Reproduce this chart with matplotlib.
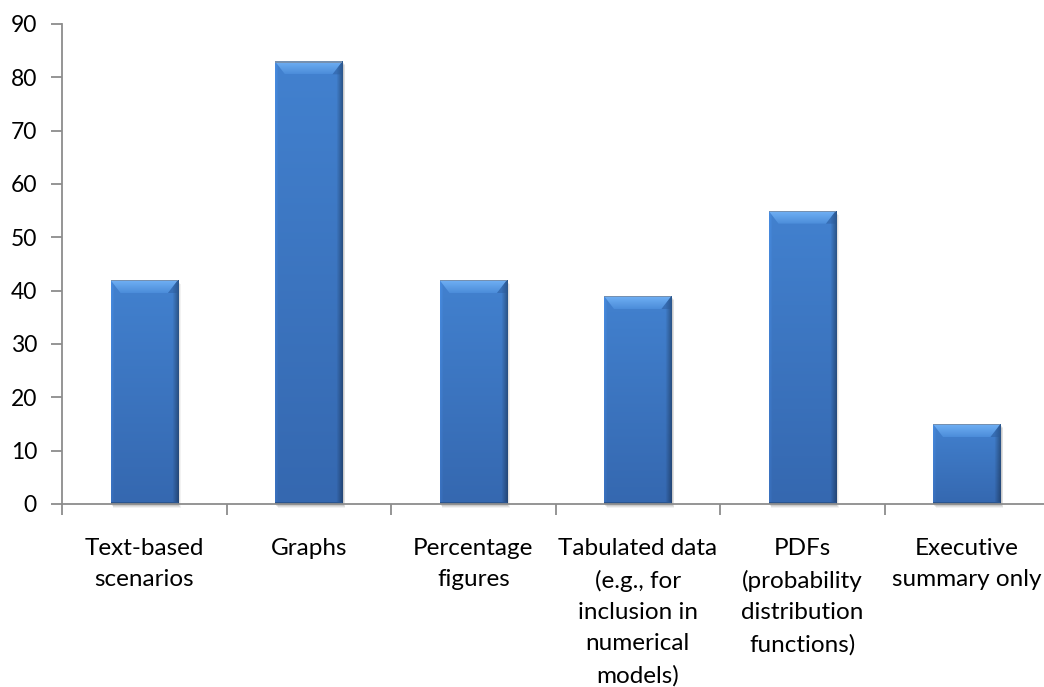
import numpy as np
import matplotlib
matplotlib.use('Agg')
import matplotlib.pyplot as plt
from matplotlib.patches import Rectangle, Polygon

categories = [
    "Text-based\nscenarios",
    "Graphs",
    "Percentage\nfigures",
    "Tabulated data\n(e.g., for\ninclusion in\nnumerical\nmodels)",
    "PDFs\n(probability\ndistribution\nfunctions)",
    "Executive\nsummary only",
]
values = [42, 83, 42, 39, 55, 15]
y_ticks = list(range(0, 100, 10))

plt.rcParams['font.family'] = ['Lato', 'DejaVu Sans']

fig = plt.figure(figsize=(10.44, 6.87), dpi=100)
W, H = 1044, 687
left, right = 62, 1049
top, bottom = 24, 504
ax = fig.add_axes([left / W, 1 - bottom / H, (right - left) / W, (bottom - top) / H])

x = np.arange(len(values))
bar_w = 0.41
bars = ax.bar(x, values, width=bar_w, color='#3d7cc9', zorder=3)

ax.set_xlim(-0.5, len(values) - 0.5)
ax.set_ylim(0, 90)

px_x = (right - left) / len(values)
px_y = (bottom - top) / 90
bar_px = bar_w * px_x

# body shading: mild vertical fade, darker right rim, lighter left rim
top_c = np.array([0x42, 0x81, 0xcf]) / 255
bot_c = np.array([0x35, 0x68, 0xb0]) / 255
ny, nx = 120, int(bar_px)
t = np.linspace(0, 1, ny)[:, None, None]
u = np.arange(nx)[None, :, None].astype(float)
base = top_c * (1 - t) + bot_c * t
edge = (1 - 0.32 * np.clip((u - (nx - 7)) / 6, 0, 1)
        + 0.08 * np.clip((3 - u) / 3, 0, 1))
grad = np.clip(base * edge, 0, 1)

# top bevel shading
bev_hi = np.array([0x70, 0xb0, 0xf4]) / 255
bev_lo = np.array([0x4c, 0x8d, 0xda]) / 255
tb = np.linspace(0, 1, 30)[:, None, None]
bevel = np.clip((bev_hi * (1 - tb) + bev_lo * tb) * np.ones((1, 10, 1)), 0, 1)

for rect in bars:
    x0, w, h = rect.get_x(), rect.get_width(), rect.get_height()
    # soft drop shadow
    for k, a in [(4, 0.05), (3, 0.07), (2, 0.09)]:
        ax.add_patch(Rectangle((x0 + k * 0.7 / px_x, -k / px_y), w, h,
                               facecolor='black', alpha=a, lw=0, zorder=2,
                               clip_on=False))
    rect.set_facecolor('none')
    img = ax.imshow(grad, extent=(x0, x0 + w, 0, h), aspect='auto',
                    zorder=3.1, interpolation='bilinear')
    img.set_clip_path(rect)
    dx, dy = 10 / px_x, 13 / px_y
    bev = Polygon([(x0, h), (x0 + w, h), (x0 + w - dx, h - dy), (x0 + dx, h - dy)],
                  closed=True, facecolor='none', lw=0, zorder=3.3)
    ax.add_patch(bev)
    bimg = ax.imshow(bevel, extent=(x0, x0 + w, h - dy, h), aspect='auto',
                     zorder=3.3, interpolation='bilinear')
    bimg.set_clip_path(bev)
    # darker right corner of the bevel
    ax.add_patch(Polygon([(x0 + w, h), (x0 + w - dx, h - dy), (x0 + w, h - dy)],
                         closed=True, facecolor='#2b5a99', alpha=0.45, lw=0, zorder=3.35))
    ax.add_patch(Rectangle((x0, 0), w, 2 / px_y, facecolor='#2a5590', lw=0, zorder=3.4))
    ax.add_patch(Rectangle((x0, h - 1.2 / px_y), w, 1.2 / px_y, facecolor='#7590b0',
                           lw=0, zorder=3.4))

axis_c = '#8c8c8c'
for s in ['top', 'right']:
    ax.spines[s].set_visible(False)
for s in ['left', 'bottom']:
    ax.spines[s].set_color(axis_c)
    ax.spines[s].set_linewidth(1.3)
    ax.spines[s].set_zorder(4)

ax.set_yticks(y_ticks)
ax.tick_params(axis='y', length=8, width=1.3, color=axis_c, labelsize=16.5, pad=10)
ax.set_xticks(np.arange(len(values) + 1) - 0.5)
ax.set_xticklabels([])
ax.tick_params(axis='x', length=8, width=1.3, color=axis_c)
for i, lab in enumerate(categories):
    ax.text(i, -6.4, lab, ha='center', va='top', fontsize=17.5,
            linespacing=1.6, color='black')

fig.savefig('out.png', dpi=100)
